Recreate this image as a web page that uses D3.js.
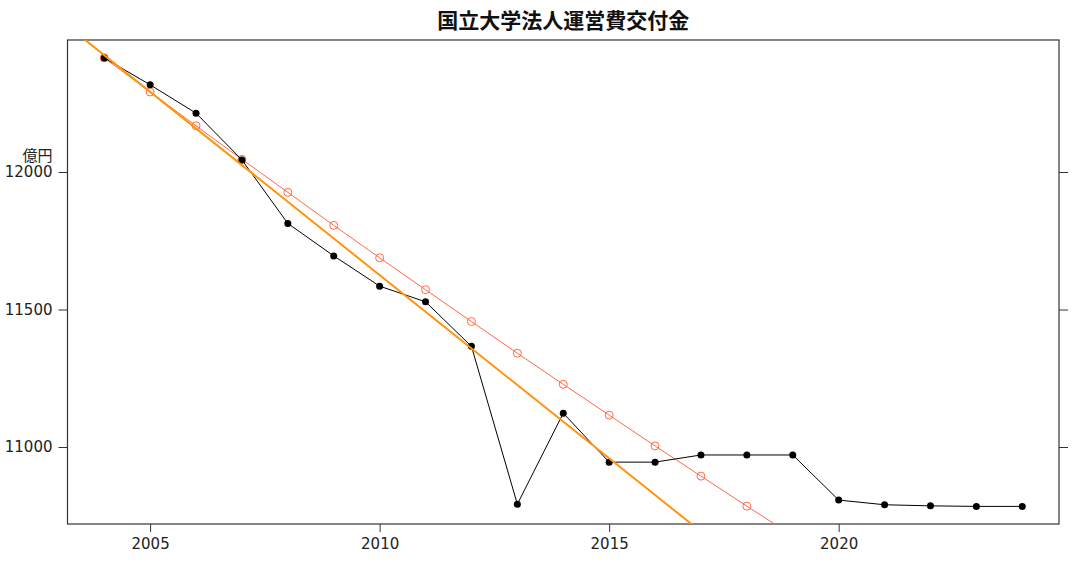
<!DOCTYPE html>
<html>
<head>
<meta charset="utf-8">
<title>国立大学法人運営費交付金</title>
<script src="https://cdn.jsdelivr.net/npm/d3@7"></script>
<style>
  body { margin: 0; background: #fff; }
  text { font-family: "DejaVu Sans", "Noto Sans CJK JP", sans-serif; fill: #222; }
  .cjk { font-family: "Noto Sans CJK JP", sans-serif; }
</style>
</head>
<body>
<svg width="1076" height="568" id="mainsvg"></svg>
<script>
// 年度と交付金額(億円)
const years = [2004, 2005, 2006, 2007, 2008, 2009, 2010, 2011, 2012, 2013, 2014,
               2015, 2016, 2017, 2018, 2019, 2020, 2021, 2022, 2023, 2024];
const actual = [12415, 12317, 12214, 12044, 11813, 11695, 11585, 11528, 11366, 10792, 11123,
                10945, 10945, 10971, 10971, 10971, 10807, 10790, 10786, 10784, 10784];
// 毎年1%削減の想定 (2019は枠外)
const cutYears = [2004, 2005, 2006, 2007, 2008, 2009, 2010, 2011, 2012, 2013, 2014, 2015, 2016, 2017, 2018, 2019];
const cutValues = [12415, 12291, 12168, 12046, 11926, 11806, 11688, 11572, 11456, 11341, 11228, 11116, 11004, 10894, 10785, 10677];
// 傾向線(両端)
const trendYears = [2003, 2018];
const trendValues = [12558, 10559];
const xTicks = [2005, 2010, 2015, 2020];
const yTicks = [11000, 11500, 12000];

const svg = d3.select('#mainsvg');
const pLeft = 67.5, pRight = 1059, pTop = 40, pBottom = 524;

const x = d3.scaleLinear().domain([2003.2, 2024.8]).range([pLeft, pRight]);
const y = d3.scaleLinear().domain([10720, 12480]).range([pBottom, pTop]);

svg.append('defs').append('clipPath').attr('id', 'panel')
  .append('rect').attr('x', pLeft).attr('y', pTop)
  .attr('width', pRight - pLeft).attr('height', pBottom - pTop);

// タイトル
svg.append('text').attr('class', 'cjk').attr('x', (pLeft + pRight) / 2).attr('y', 28)
  .attr('text-anchor', 'middle').attr('font-size', 21).attr('font-weight', 'bold')
  .style('fill', '#111')
  .text('国立大学法人運営費交付金');

// 軸
const xAxis = svg.append('g').attr('transform', `translate(0,${pBottom})`)
  .call(d3.axisBottom(x).tickValues(xTicks).tickFormat(d3.format('d')).tickSize(8).tickPadding(6));
const yAxis = svg.append('g').attr('transform', `translate(${pLeft},0)`)
  .call(d3.axisLeft(y).tickValues(yTicks).tickFormat(d3.format('d')).tickSize(9).tickPadding(6));
const yAxisR = svg.append('g').attr('transform', `translate(${pRight},0)`)
  .call(d3.axisRight(y).tickValues(yTicks).tickFormat('').tickSize(9));
[xAxis, yAxis, yAxisR].forEach(a => {
  a.select('.domain').remove();
  a.selectAll('line').attr('stroke', '#333');
  a.selectAll('text').attr('font-size', 15).attr('font-family', null).style('fill', '#222');
});
xAxis.selectAll('text').attr('dy', '0.71em');

svg.append('text').attr('class', 'cjk').attr('x', pLeft - 15).attr('y', 161)
  .attr('text-anchor', 'end').attr('font-size', 15).text('億円');

// 枠
svg.append('rect').attr('x', pLeft).attr('y', pTop)
  .attr('width', pRight - pLeft).attr('height', pBottom - pTop)
  .attr('fill', 'none').attr('stroke', '#333').attr('stroke-width', 1.2);

const plot = svg.append('g').attr('clip-path', 'url(#panel)');
const line = d3.line().x(d => x(d[0])).y(d => y(d[1]));

// 1%削減
const cut = d3.zip(cutYears, cutValues);
plot.append('path').datum(cut).attr('d', line)
  .attr('fill', 'none').attr('stroke', '#ff6a45').attr('stroke-width', 1);
plot.selectAll('circle.cut').data(cut).join('circle').attr('class', 'cut')
  .attr('cx', d => x(d[0])).attr('cy', d => y(d[1])).attr('r', 4)
  .attr('fill', 'none').attr('stroke', '#ff6a45').attr('stroke-width', 1);

// 実績
const act = d3.zip(years, actual);
plot.append('path').datum(act).attr('d', line)
  .attr('fill', 'none').attr('stroke', '#000').attr('stroke-width', 1);
plot.selectAll('circle.act').data(act).join('circle').attr('class', 'act')
  .attr('cx', d => x(d[0])).attr('cy', d => y(d[1])).attr('r', 3.5)
  .attr('fill', '#000');

// 傾向線
plot.append('path').datum(d3.zip(trendYears, trendValues)).attr('d', line)
  .attr('fill', 'none').attr('stroke', '#ff9410').attr('stroke-width', 2);
</script>
</body>
</html>
